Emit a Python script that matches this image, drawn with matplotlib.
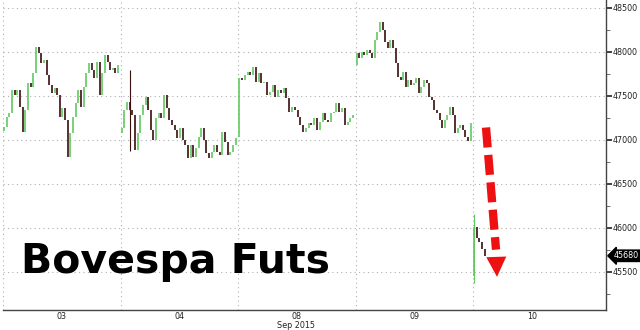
import matplotlib
matplotlib.use("Agg")
import matplotlib.pyplot as plt
from matplotlib.ticker import MultipleLocator, FixedLocator
import numpy as np

# Bovespa futures, intraday bars, Sep 3-10 2015
day_labels = ["03", "04", "08", "09", "10"]
day_open = [47100, 47080, 47036, 47851, 45450]

closes_03 = [47150, 47263, 47302, 47567, 47510, 47567, 47377, 47093, 47340, 47643,
             47605, 47757, 48060, 47985, 47870, 47908, 47738, 47624, 47530, 47586,
             47510, 47263, 47359, 47226, 46808, 47074, 47263, 47416, 47567, 47377,
             47605, 47757, 47870, 47795, 47700, 47889, 47510, 47757, 47965, 47889,
             47795, 47814, 47757, 47851]
closes_04 = [47131, 47340, 47434, 47340, 47283, 46885, 47074, 47283, 47396, 47491,
             47340, 47112, 46998, 47245, 47302, 47245, 47510, 47359, 47226, 47169,
             47112, 47018, 47131, 46998, 46941, 46790, 46941, 46808, 46904, 47036,
             47131, 46998, 46846, 46790, 46865, 46941, 46865, 46828, 47093, 46979,
             46828, 46865, 46941, 47018]
closes_08 = [47700, 47681, 47738, 47775, 47738, 47833, 47662, 47757, 47643, 47662,
             47510, 47548, 47624, 47491, 47567, 47530, 47586, 47472, 47320, 47377,
             47340, 47263, 47169, 47093, 47131, 47188, 47169, 47245, 47112, 47207,
             47302, 47226, 47207, 47302, 47320, 47416, 47320, 47359, 47169, 47207,
             47245, 47283]
closes_09 = [47985, 47928, 48003, 47965, 48022, 47985, 47928, 48136, 48230, 48344,
             48250, 48117, 48041, 48136, 48041, 47870, 47718, 47681, 47775, 47605,
             47681, 47624, 47643, 47700, 47530, 47605, 47681, 47643, 47491, 47453,
             47340, 47302, 47226, 47131, 47226, 47283, 47377, 47283, 47074, 47131,
             47169, 47112, 47036, 46990, 47188]
closes_10 = [46010, 45880, 45840, 45760, 45680]
all_closes = [closes_03, closes_04, closes_08, closes_09, closes_10]

# (day, bar) -> (high, low) where the wick sticks out of the body
wicks = {(1, 3): (47795, 46870), (4, 0): (46160, 45370)}

last_price = 45680

up_col = "#62c862"
down_col = "#3b0d0d"
grid_col = "#b0b0b0"

fig = plt.figure(figsize=(6.4, 3.3), dpi=100)
ax = fig.add_axes([3 / 640, 20 / 330, 603 / 640, 310 / 330])

for d, closes in enumerate(all_closes):
    step = 0.97 / (len(closes) - 1) if len(closes) > 10 else 0.97 / 43
    prev = day_open[d]
    for i, c in enumerate(closes):
        x = d + 0.01 + i * step
        col = up_col if c >= prev else down_col
        if (d, i) in wicks:
            hi, lo = wicks[(d, i)]
            ax.vlines(x, lo, hi, color=col, lw=0.8, zorder=3)
        ax.vlines(x, min(prev, c), max(prev, c), color=col, lw=1.2, zorder=3)
        prev = c

ax.set_xlim(0, 603 / 117.5)
ax.set_ylim(45063, 48591)

# grid
for v in range(45500, 48501, 500):
    ax.axhline(v, color=grid_col, lw=0.8, ls=(0, (1, 3)), zorder=1)
for d in range(5):
    ax.axvline(d, color=grid_col, lw=0.8, ls=(0, (1, 3)), zorder=1)

# axes styling
for s in ["top", "left"]:
    ax.spines[s].set_visible(False)
for s in ["bottom", "right"]:
    ax.spines[s].set_color("#444444")
    ax.spines[s].set_linewidth(1.0)

ax.yaxis.tick_right()
ax.yaxis.set_major_locator(MultipleLocator(500))
ax.yaxis.set_minor_locator(MultipleLocator(250))
ax.tick_params(axis="y", which="major", direction="out", length=4, width=1.3,
               color="#333333", labelsize=5.8, labelcolor="#222222", pad=1)
ax.tick_params(axis="y", which="minor", direction="out", length=3, width=0.6,
               color="#555555")

ax.xaxis.set_major_locator(FixedLocator([d + 0.5 for d in range(5)]))
ax.set_xticklabels(day_labels)
ax.tick_params(axis="x", length=0, labelsize=5.8, labelcolor="#222222", pad=1.5)
fig.text(296 / 640, 1 - 325.5 / 330, "Sep 2015", ha="center", va="center",
         fontsize=5.8, color="#222222")

# last price tag
ax.text(1.013, last_price, str(last_price), transform=ax.get_yaxis_transform(),
        color="white", fontsize=5.8, va="center", ha="left", clip_on=False,
        bbox=dict(boxstyle="larrow,pad=0.15", fc="black", ec="black"))

# title
ax.text(18 / 603, 45500 - 1.3 / 0.0879, "Bovespa Futs", transform=ax.get_yaxis_transform(),
        fontsize=29.5, fontweight="bold", color="black", ha="left", va="baseline",
        zorder=5)

# red dashed arrow
ax.plot([(486 - 3) / 117.5, (496 - 3) / 117.5], [47140, 45750], color="#ee1111",
        lw=6, dashes=(2.4, 0.9), solid_capstyle="butt", zorder=6)
ax.annotate("", xy=((497 - 3) / 117.5, 45440), xytext=((496 - 3) / 117.5, 45760),
            arrowprops=dict(arrowstyle="-|>,head_width=0.36,head_length=0.72",
                            mutation_scale=20, color="#ee1111", lw=0,
                            shrinkA=0, shrinkB=0),
            zorder=6)

fig.savefig("out.png", dpi=100)
